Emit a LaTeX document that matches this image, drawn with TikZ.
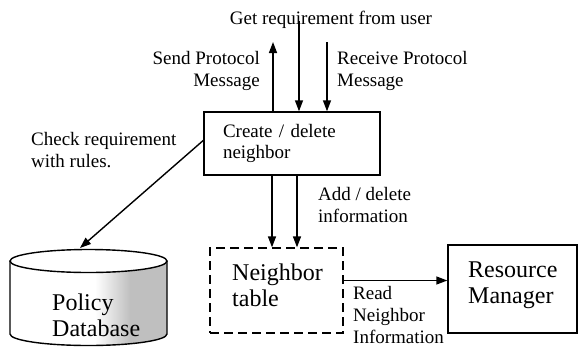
\documentclass[tikz,border=0pt]{standalone}
\usepackage{fontspec}
\setmainfont{Liberation Serif}
\usepackage{tikz}
\usetikzlibrary{arrows.meta, positioning}
\usetikzlibrary{calc}

\tikzset{
  lbl/.style={font=\fontsize{19}{22}\selectfont, inner sep=0pt},
  big/.style={font=\fontsize{24}{26}\selectfont, inner sep=0pt, align=left},
  box/.style={draw, line width=1.4pt},
  dbox/.style={draw, line width=1.3pt, dash pattern=on 9pt off 5pt},
  arr/.style={-{Triangle[length=11pt,width=8pt]}, line width=1.4pt}
}

\begin{document}
\begin{tikzpicture}[x=1pt,y=-1pt]
            \useasboundingbox (0,0) rectangle (579,349);
            % labels on top
            \node[lbl](get) at (331,20) {Get requirement from user};
            \node[lbl,align=right,anchor=east](send) at (260,71) {Send Protocol\\Message};
            \node[lbl,align=left,anchor=west](recv) at (337,71) {Receive Protocol\\Message};
            \node[box,minimum width=176pt,minimum height=63pt,inner xsep=19pt,text width=138pt,align=left,font=\fontsize{19}{21}\selectfont](create) at (292,143.5) {Create / delete\\neighbor};
            \node[lbl,align=left,anchor=west](check) at (31,150.5) {Check requirement\\with rules.};
            \node[lbl,align=left,anchor=west](addl) at (318,205) {Add / delete\\information};
            % boxes below
            \node[dbox,minimum width=133pt,minimum height=85pt](ntab) at (276.5,290.5) {};
            \node[big,anchor=west](ntabl) at (232,285) {Neighbor\\table};
            \node[box,minimum width=129pt,minimum height=88pt](res) at (512.5,289) {};
            \node[big,anchor=west](resl) at (468,285) {Resource\\Manager};
            \node[lbl,align=left,anchor=west](readl) at (353,315) {Read\\Neighbor\\Information};
            % database
            \begin{scope}
              \clip (10,261) -- (10,334) arc[start angle=180,end angle=360,x radius=78.5pt,y radius=11.5pt] -- (167,261) arc[start angle=0,end angle=-180,x radius=78.5pt,y radius=11.5pt] -- cycle;
              \shade[left color=white,right color=gray!50] (95,240) rectangle (130,350);
              \fill[gray!50] (130,240) rectangle (170,350);
            \end{scope}
            \draw[line width=1.4pt] (10,261) -- (10,334) arc[start angle=180,end angle=360,x radius=78.5pt,y radius=11.5pt] -- (167,261);
            \draw[line width=1.4pt] (88.5,261) ellipse[x radius=78.5pt,y radius=11.5pt];
            \node[big,anchor=west](db) at (52,315) {Policy\\Database};
            \coordinate (dbtop) at (80,248);
            % arrow ends
            \coordinate (sendtip) at (273,42);
            \coordinate (getstart) at (299,21);
            \coordinate (recvstart) at (327,42);
            \coordinate (addx) at (272,0);
            \coordinate (addy) at (297,0);
            \draw[arr] (create.north -| sendtip) -- (sendtip);
            \draw[arr] (getstart) -- (create.north -| getstart);
            \draw[arr] (recvstart) -- (create.north -| recvstart);
            \draw[arr] (create.178) -- (dbtop);
            \draw[arr] (create.south -| addx) -- (ntab.north -| addx);
            \draw[arr] (create.south -| addy) -- (ntab.north -| addy);
            \draw[arr] ([yshift=10pt]ntab.east) -- ([yshift=10pt]ntab.east -| res.west);
        \end{tikzpicture}
\end{document}
